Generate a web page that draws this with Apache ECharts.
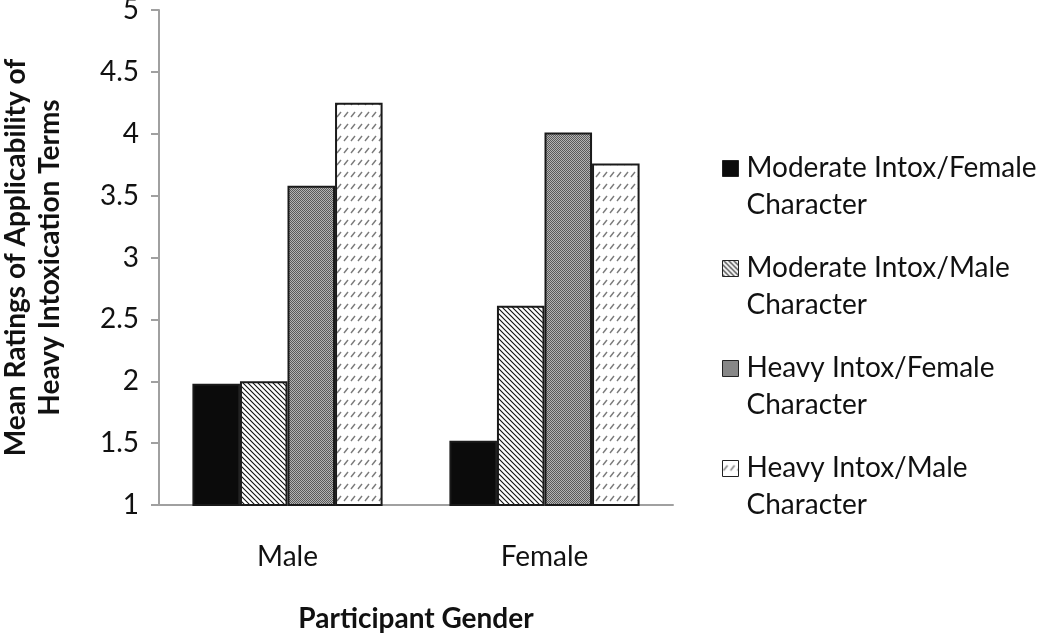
<!DOCTYPE html>
<html>
<head><meta charset="utf-8"></head>
<script type="text/javascript" src="https://cdn.jsdelivr.net/npm/echarts@6/dist/echarts.min.js"></script>
<body style="margin:0;background-color:white;">
<div id="main" style="width:1050px;height:636px;"></div>
<script>
// data
var genders = ['Male', 'Female']
var seriesNames = ['Moderate Intox/Female Character', 'Moderate Intox/Male Character',
                   'Heavy Intox/Female Character', 'Heavy Intox/Male Character']
var modFemale = [1.98, 1.52]
var modMale = [2.00, 2.61]
var heavyFemale = [3.58, 4.01]
var heavyMale = [4.25, 3.76]
var yTicks = [1, 1.5, 2, 2.5, 3, 3.5, 4, 4.5, 5]

// little canvas tiles for the black & white fills
function tile(w, h, draw) {
    var c = document.createElement('canvas')
    c.width = w; c.height = h
    var ctx = c.getContext('2d')
    ctx.fillStyle = '#fff'
    ctx.fillRect(0, 0, w, h)
    draw(ctx)
    return {image: c, repeat: 'repeat'}
}
var solidBlack = '#0b0b0b'
var backHatch = tile(5, 5, function (ctx) {
    ctx.strokeStyle = '#111'
    ctx.lineWidth = 1.1
    ctx.beginPath()
    ctx.moveTo(-1, -1); ctx.lineTo(6, 6)
    ctx.moveTo(-1, 4); ctx.lineTo(1, 6)
    ctx.moveTo(4, -1); ctx.lineTo(6, 1)
    ctx.stroke()
})
var greyDots = tile(2, 2, function (ctx) {
    ctx.fillStyle = '#b4b4b4'
    ctx.fillRect(0, 0, 2, 2)
    ctx.fillStyle = '#5a5a5a'
    ctx.fillRect(0, 0, 1, 1)
    ctx.fillRect(1, 1, 1, 1)
})
var dashSlash = tile(7, 12, function (ctx) {
    ctx.strokeStyle = '#7a7a7a'
    ctx.lineWidth = 1.4
    ctx.beginPath()
    ctx.moveTo(1, 9); ctx.lineTo(5, 4)
    ctx.stroke()
})
var fills = [solidBlack, backHatch, greyDots, dashSlash]
var values = [modFemale, modMale, heavyFemale, heavyMale]

var myChart = echarts.init(document.getElementById('main'))

var font = 'Lato, "Open Sans", sans-serif'
// legend square sits beside the first of the two text lines
var legendIcon = 'path://M0,0h0.01M0,11h16v16h-16zM0,74h0.01'
var series = []
for (var i = 0; i < seriesNames.length; i++) {
    series.push({
        name: seriesNames[i],
        type: 'bar',
        data: values[i],
        barGap: '0%',
        barCategoryGap: '26%',
        itemStyle: {color: fills[i], borderColor: '#1a1a1a', borderWidth: 2},
        emphasis: {disabled: true}
    })
}

var option = {
    animation: false,
    backgroundColor: '#fff',
    textStyle: {fontFamily: font},
    grid: {left: 159, right: 377, top: 10, bottom: 131, outerBoundsMode: 'none', containLabel: false},
    legend: {
        orient: 'vertical',
        left: 717,
        top: 144,
        itemWidth: 16,
        itemHeight: 74,
        itemGap: 25,
        icon: legendIcon,
        formatter: function (name) { return name.replace(' Character', '\nCharacter') },
        textStyle: {fontSize: 28, color: '#111', lineHeight: 37, padding: [0, 0, 0, 3]},
        itemStyle: {borderColor: '#222', borderWidth: 1}
    },
    xAxis: {
        type: 'category',
        data: genders,
        name: 'Participant Gender',
        nameLocation: 'middle',
        nameGap: 100,
        nameTextStyle: {fontSize: 28, fontWeight: 'bold', color: '#111'},
        axisLine: {lineStyle: {color: '#a0a0a0', width: 2}},
        axisTick: {length: 8, lineStyle: {color: '#a0a0a0', width: 2}},
        axisLabel: {fontSize: 28, color: '#111', margin: 38}
    },
    yAxis: {
        type: 'value',
        min: 1,
        max: 5,
        interval: 0.5,
        name: 'Mean Ratings of Applicability of\nHeavy Intoxication Terms',
        nameLocation: 'middle',
        nameGap: 92,
        nameTextStyle: {fontSize: 28, fontWeight: 'bold', color: '#111', lineHeight: 34},
        axisLine: {show: true, lineStyle: {color: '#a0a0a0', width: 2}},
        axisTick: {show: true, length: 8, lineStyle: {color: '#a0a0a0', width: 2}},
        splitLine: {show: false},
        axisLabel: {fontSize: 28, color: '#111', margin: 20,
            formatter: function (v) { return yTicks.indexOf(v) >= 0 ? String(v) : '' }}
    },
    series: series
}

option && myChart.setOption(option)
</script>
</body>
</html>
